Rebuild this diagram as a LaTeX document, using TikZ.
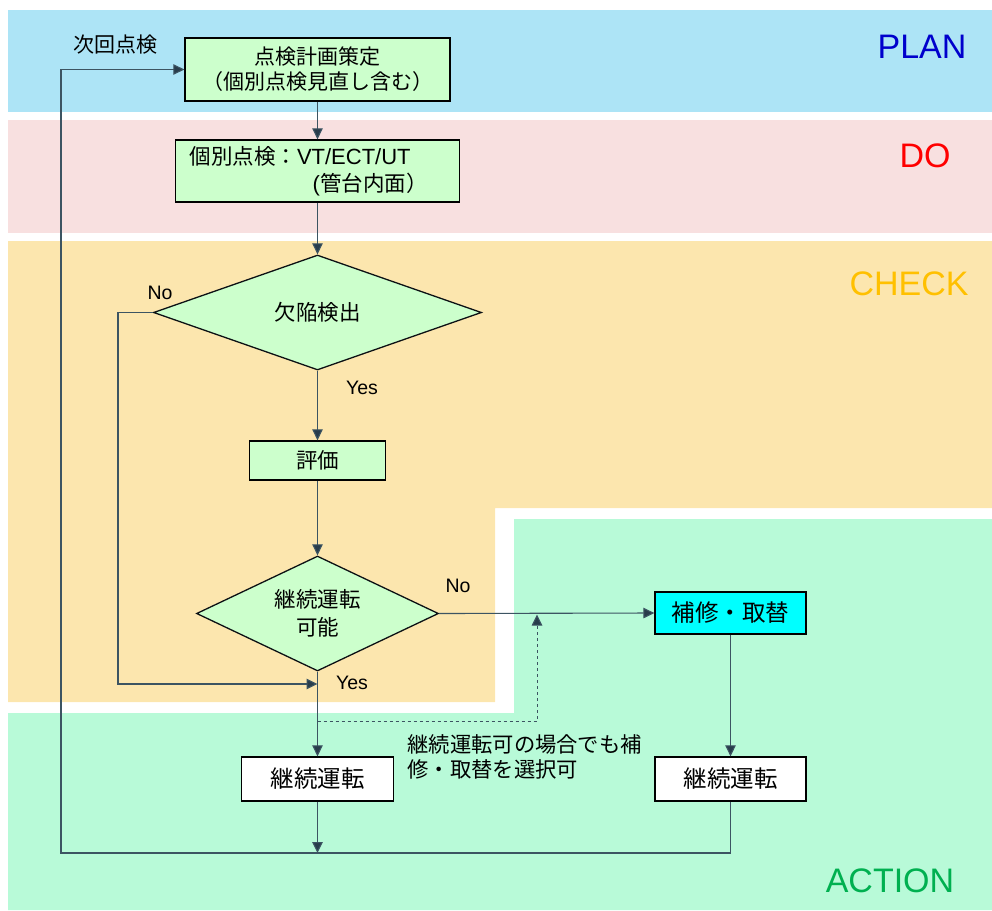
\documentclass[tikz,border=0pt]{standalone}
\usepackage{fontspec}
\setmainfont{Liberation Sans}
\newfontfamily\jp{Noto Sans CJK JP}
\usetikzlibrary{shapes.geometric,arrows.meta}
\definecolor{planbg}{RGB}{173,228,246}
\definecolor{dobg}{RGB}{248,224,224}
\definecolor{checkbg}{RGB}{252,230,174}
\definecolor{actbg}{RGB}{184,250,216}
\definecolor{boxgreen}{RGB}{204,255,204}
\definecolor{boxcyan}{RGB}{0,255,255}
\definecolor{conn}{RGB}{60,84,98}
\definecolor{tipc}{RGB}{40,60,75}
\definecolor{plantxt}{RGB}{0,0,204}
\definecolor{dotxt}{RGB}{255,0,0}
\definecolor{checktxt}{RGB}{255,192,0}
\definecolor{acttxt}{RGB}{0,176,80}
\tikzset{
  procbox/.style={draw=black, line width=1.3pt, rectangle, inner sep=0pt, font=\jp\fontsize{21.5}{25}\selectfont},
  bigbox/.style={procbox, font=\jp\fontsize{23.5}{26}\selectfont},
  decide/.style={draw=black!80!conn, line width=1.3pt, diamond, inner sep=0pt, fill=boxgreen, font=\jp\fontsize{21.5}{28}\selectfont, align=center},
  flow/.style={draw=conn, line width=1.1pt, -{Triangle[length=11pt,width=10.5pt,fill=tipc]}},
  yn/.style={font=\fontsize{19.5}{22}\selectfont, text=black},
  phase/.style={font=\fontsize{34}{36}\selectfont},
}
\begin{document}
\begin{tikzpicture}[x=1pt,y=-1pt]
\useasboundingbox (0,0) rectangle (992,910);
% phase bands
\fill[planbg] (8,10) rectangle (992,112);
\fill[dobg] (8,120) rectangle (992,233);
\fill[checkbg] (8,241) -- (992,241) -- (992,508) -- (495,508) -- (495,702) -- (8,702) -- cycle;
\fill[actbg] (8,713) -- (514,713) -- (514,519) -- (992,519) -- (992,910) -- (8,910) -- cycle;
\node[phase, text=plantxt] (tplan) at (922,47) {PLAN};
\node[phase, text=dotxt] (tdo) at (925,156) {DO};
\node[phase, text=checktxt] (tcheck) at (909,284) {CHECK};
\node[phase, text=acttxt] (tact) at (890,881) {ACTION};
% nodes
\node[procbox, fill=boxgreen, minimum width=265pt, minimum height=63pt, align=center, font=\jp\fontsize{21}{25}\selectfont] (plan) at (317.5,69.5) {点検計画策定\\（個別点検見直し含む）};
\node[procbox, fill=boxgreen, minimum width=284pt, minimum height=62pt, text width=256pt, align=left, font=\jp\fontsize{21.5}{27}\selectfont] (do) at (317.5,171)
  {個別点検：{\rmfamily\fontsize{22}{27}\selectfont VT/ECT/UT}\\\makebox[256pt][r]{{\rmfamily\fontsize{22}{27}\selectfont (}管台内面）\hspace*{18pt}}};
\node[decide, minimum width=328pt, minimum height=115pt, shape aspect=2.85] (d1) at (317.5,312.5) {欠陥検出};
\node[procbox, fill=boxgreen, minimum width=136pt, minimum height=39pt] (eval) at (317.5,460.5) {評価};
\node[decide, minimum width=242pt, minimum height=115pt, shape aspect=2.1] (d2) at (317.5,613.5) {継続運転\\可能};
\node[bigbox, fill=boxcyan, minimum width=151pt, minimum height=42pt] (fix) at (730.5,613) {補修・取替};
\node[bigbox, fill=white, minimum width=152pt, minimum height=44pt] (cont1) at (317.5,779) {継続運転};
\node[bigbox, fill=white, minimum width=151pt, minimum height=44pt] (cont2) at (730.5,779) {継続運転};
% labels
\node[font=\jp\fontsize{21}{24}\selectfont] (next) at (115,45) {次回点検};
\node[yn] (no1) at (160,293) {No};
\node[yn] (yes1) at (362,388) {Yes};
\node[yn] (no2) at (458,586) {No};
\node[yn] (yes2) at (352,683) {Yes};
\node[font=\jp\fontsize{21.3}{25.5}\selectfont, align=left, anchor=west] (note) at (404,757) {継続運転可の場合でも補\\修・取替を選択可};
% helper coordinates
\coordinate (loopc) at (61,853);
\coordinate (merge) at (317.5,853);
\coordinate (nocorner) at (118,684);
\coordinate (yesjoin) at (317.5,684);
\coordinate (dashA) at (317.5,721);
\coordinate (dashB) at (537,721);
\coordinate (dashC) at (537,614.5);
% connectors
\draw[flow] (plan.south) -- (do.north);
\draw[flow] (do.south) -- (d1.north);
\draw[flow] (d1.south) -- (eval.north);
\draw[flow] (eval.south) -- (d2.north);
\draw[flow] (d2.south) -- (cont1.north);
\draw[flow] (d1.west) -| (nocorner) -- (yesjoin);
\draw[flow] (d2.east) -- (fix.west);
\draw[flow] (fix.south) -- (cont2.north);
\draw[flow] (cont1.south) -- (merge);
\draw[flow] (cont2.south) |- (loopc) |- (plan.west);
\draw[draw=conn, line width=1pt, dashed, -{Triangle[length=11pt,width=10.5pt,fill=tipc]}] (dashA) -- (dashB) -- (dashC);
\end{tikzpicture}
\end{document}
